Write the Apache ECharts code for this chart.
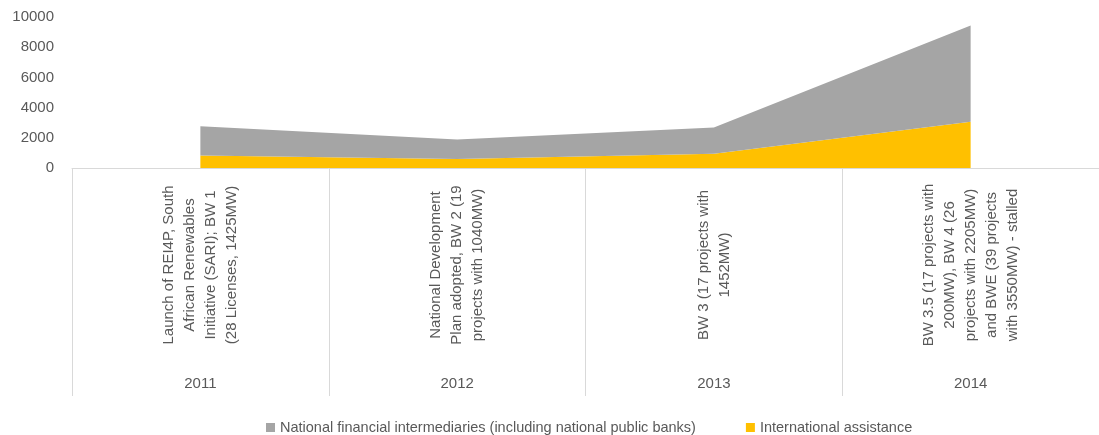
<!DOCTYPE html>
<html>
<head>
<meta charset="utf-8">
<script src="https://cdn.jsdelivr.net/npm/echarts@6/dist/echarts.min.js"></script>
<style>
  html, body { margin: 0; padding: 0; background: #fff; }
  #chart { width: 1099px; height: 435px; }
</style>
</head>
<body>
<div id="chart"></div>
<script>
var years = ['2011', '2012', '2013', '2014'];
var events = [
    'Launch of REI4P, South\nAfrican Renewables\nInitiative (SARI); BW 1\n(28 Licenses, 1425MW)',
    'National Development\nPlan adopted, BW 2 (19\nprojects with 1040MW)',
    'BW 3 (17 projects with\n1452MW)',
    'BW 3.5 (17 projects with\n200MW), BW 4 (26\nprojects with 2205MW)\nand BWE (39 projects\nwith 3550MW) - stalled'
];
var international = [820, 590, 950, 3070];
var national = [1950, 1300, 1740, 6370];
var yTicks = { min: 0, max: 10000, interval: 2000 };

var grey = '#A5A5A5';
var yellow = '#FFC000';
var textColor = '#595959';
var gridColor = '#D9D9D9';
var font = "'Liberation Sans', Arial, sans-serif";

var chart = echarts.init(document.getElementById('chart'));
var option = {
    animation: false,
    color: [yellow, grey],
    grid: { left: 72, top: 17, width: 1032, height: 151, containLabel: false },
    legend: {
        data: ['National financial intermediaries (including national public banks)', 'International assistance'],
        left: 261,
        top: 415,
        icon: 'rect',
        itemWidth: 9,
        itemHeight: 9,
        itemGap: 50,
        textStyle: { color: textColor, fontSize: 14.5, fontFamily: font }
    },
    xAxis: [{
        type: 'category',
        data: events,
        position: 'bottom',
        offset: 0,
        boundaryGap: true,
        axisLine: { show: false },
        axisTick: { show: false },
        axisLabel: {
            interval: 0,
            rotate: 90,
            align: 'center',
            margin: 97,
            lineHeight: 21,
            color: textColor,
            fontSize: 15,
            fontFamily: font
        }
    }, {
        type: 'category',
        data: years,
        position: 'bottom',
        offset: 0,
        boundaryGap: true,
        axisLine: { show: true, lineStyle: { color: gridColor, width: 1 } },
        axisTick: { show: true, interval: 0, length: 228, lineStyle: { color: gridColor, width: 1 } },
        axisLabel: {
            interval: 0,
            margin: 208,
            color: textColor,
            fontSize: 15,
            fontFamily: font
        }
    }],
    yAxis: {
        type: 'value',
        min: yTicks.min,
        max: yTicks.max,
        interval: yTicks.interval,
        axisLine: { show: false },
        axisTick: { show: false },
        splitLine: { show: false },
        axisLabel: {
            margin: 18,
            color: textColor,
            fontSize: 15,
            fontFamily: font,
            formatter: function (v) { return String(v); }
        }
    },
    series: [{
        name: 'International assistance',
        type: 'line',
        stack: 'total',
        xAxisIndex: 0,
        data: international,
        showSymbol: false,
        lineStyle: { width: 0 },
        areaStyle: { color: yellow, opacity: 1 }
    }, {
        name: 'National financial intermediaries (including national public banks)',
        type: 'line',
        stack: 'total',
        xAxisIndex: 0,
        data: national,
        showSymbol: false,
        lineStyle: { width: 0 },
        areaStyle: { color: grey, opacity: 1 }
    }]
};
chart.setOption(option);
</script>
</body>
</html>
